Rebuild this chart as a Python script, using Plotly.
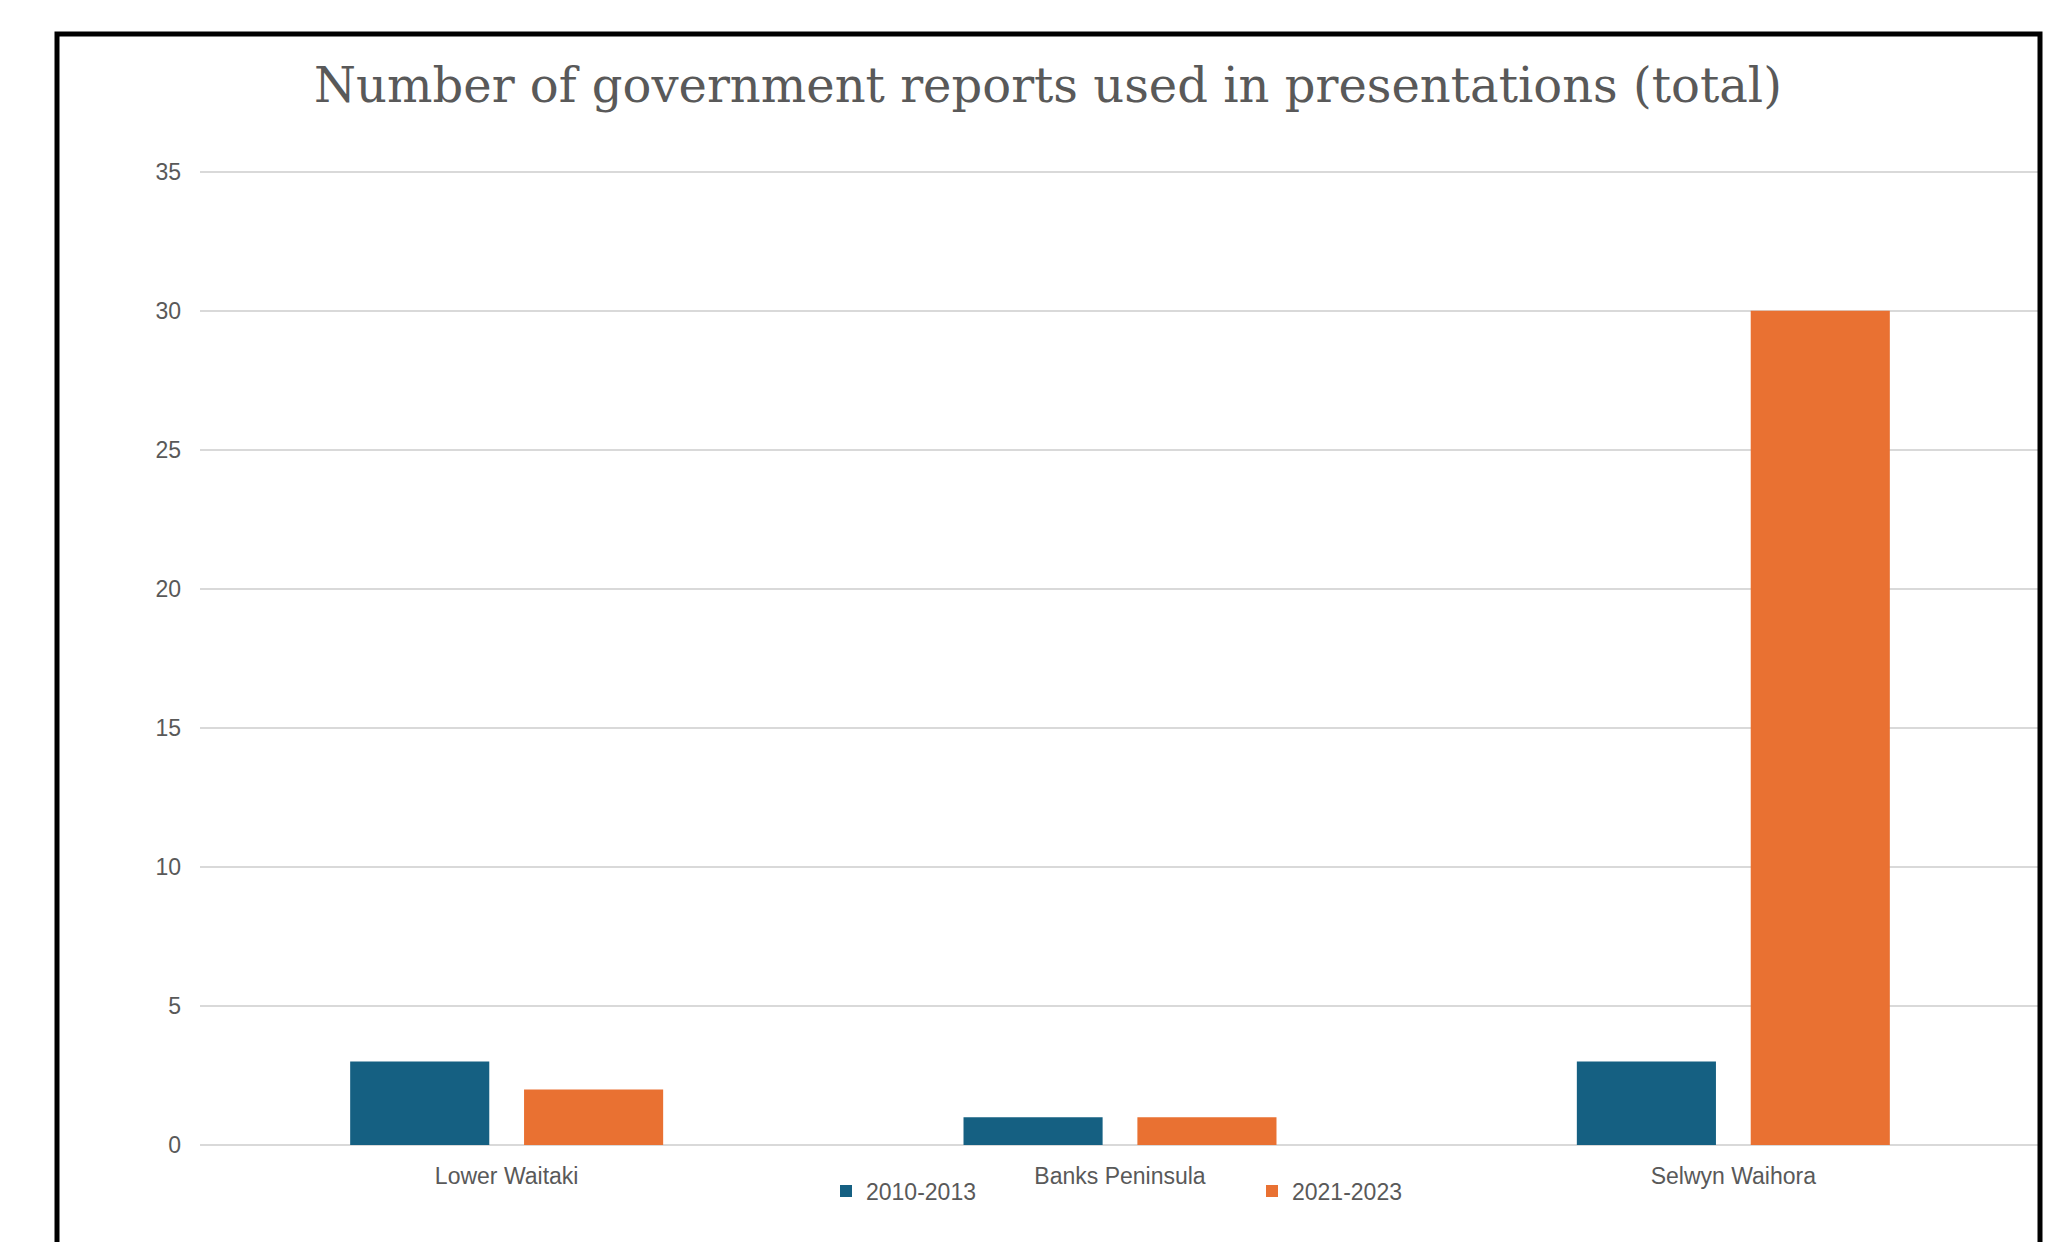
import plotly.graph_objects as go

# ---- data ----
categories = ["Lower Waitaki", "Banks Peninsula", "Selwyn Waihora"]
series_names = ["2010-2013", "2021-2023"]
values_2010_2013 = [3, 1, 3]
values_2021_2023 = [2, 1, 30]
y_ticks = [0, 5, 10, 15, 20, 25, 30, 35]
title_text = "Number of government reports used in presentations (total)"

# ---- style ----
W, H = 2049, 1242
PL, PR = 200, 2040          # plot area x (px)
PT, PB = 170, 1145          # plot area y (px)
Y_TOP = 35 * (PB - PT) / (PB - 171.7)   # leaves the 35 gridline inside the plot
BLUE = "#156082"
ORANGE = "#E97132"
TEXT = "#595959"
GRID = "#D9D9D9"
SANS = "Liberation Sans, Arial, sans-serif"


def px_to_paper_x(px):
    return (px - PL) / (PR - PL)


def px_to_paper_y(py):
    return (PB - py) / (PB - PT)


fig = go.Figure()
fig.add_trace(go.Bar(name=series_names[0], x=categories, y=values_2010_2013,
                     marker=dict(color=BLUE, line=dict(width=0))))
fig.add_trace(go.Bar(name=series_names[1], x=categories, y=values_2021_2023,
                     marker=dict(color=ORANGE, line=dict(width=0))))

fig.update_layout(
    width=W, height=H,
    margin=dict(l=PL, r=W - PR, t=PT, b=H - PB, autoexpand=False),
    paper_bgcolor="white", plot_bgcolor="white",
    barmode="group", bargap=0.433, bargroupgap=0.2,
    title=dict(text=title_text, xref="container", yref="container",
               x=1048 / W, xanchor="center", y=1 - 85 / H, yanchor="middle",
               font=dict(family="DejaVu Serif, serif", size=48, color=TEXT)),
    xaxis=dict(showgrid=False, showline=False, zeroline=False, ticks="",
               tickfont=dict(family=SANS, size=23, color=TEXT),
               ticklabelstandoff=15, automargin=False),
    yaxis=dict(range=[0, Y_TOP], tickvals=y_ticks, showgrid=True, gridcolor=GRID,
               gridwidth=2, zeroline=True, zerolinecolor=GRID, zerolinewidth=2,
               showline=False, ticks="",
               tickfont=dict(family=SANS, size=23, color=TEXT),
               ticklabelstandoff=18, automargin=False),
    legend=dict(orientation="h", x=px_to_paper_x(826), xanchor="left",
                y=px_to_paper_y(1191), yanchor="middle", entrywidth=381,
                font=dict(family=SANS, size=23, color=TEXT),
                bgcolor="rgba(0,0,0,0)"),
    showlegend=True,
    shapes=[dict(type="rect", xref="paper", yref="paper",
                 x0=px_to_paper_x(57), x1=px_to_paper_x(2040),
                 y0=px_to_paper_y(1270), y1=px_to_paper_y(34),
                 line=dict(color="black", width=5), fillcolor="rgba(0,0,0,0)",
                 layer="above")],
)

fig.write_html("out.html", config={"displayModeBar": False},
               post_script="document.body.style.margin='0';document.body.style.overflow='hidden';")
